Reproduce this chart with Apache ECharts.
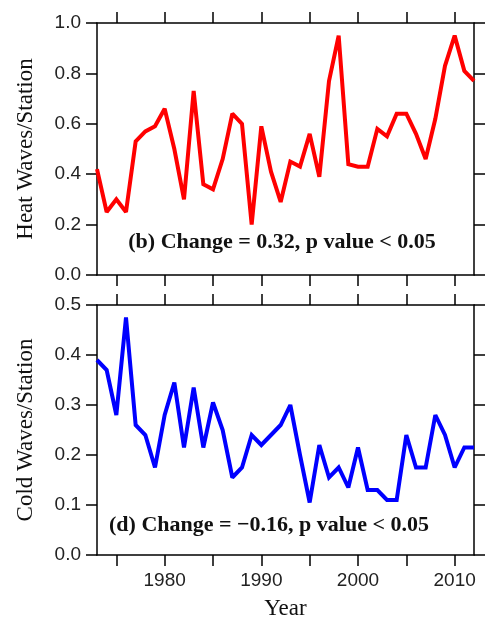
<!DOCTYPE html>
<html>
<head>
<meta charset="utf-8">
<title>Heat / Cold Waves</title>
<script src="https://cdn.jsdelivr.net/npm/echarts@6/dist/echarts.min.js"></script>
<style>
  html, body { margin: 0; padding: 0; background: #fff; }
  #main { width: 485px; height: 621px; }
</style>
</head>
<body>
<div id="main"></div>
<script>
// data
var years = [1973,1974,1975,1976,1977,1978,1979,1980,1981,1982,1983,1984,1985,1986,1987,1988,1989,1990,1991,1992,
             1993,1994,1995,1996,1997,1998,1999,2000,2001,2002,2003,2004,2005,2006,2007,2008,2009,2010,2011,2012];
var heatWaves = [0.42,0.25,0.30,0.25,0.53,0.57,0.59,0.66,0.50,0.30,0.73,0.36,0.34,0.46,0.64,0.60,0.20,0.59,0.41,0.29,
                 0.45,0.43,0.56,0.39,0.77,0.95,0.44,0.43,0.43,0.58,0.55,0.64,0.64,0.56,0.46,0.62,0.83,0.95,0.81,0.77];
var coldWaves = [0.39,0.37,0.28,0.475,0.26,0.24,0.175,0.28,0.345,0.215,0.335,0.215,0.305,0.25,0.155,0.175,0.24,0.22,0.24,0.26,
                 0.30,0.20,0.105,0.22,0.155,0.175,0.135,0.215,0.13,0.13,0.11,0.11,0.24,0.175,0.175,0.28,0.24,0.175,0.215,0.215];
var yearTicks = [1975,1980,1985,1990,1995,2000,2005,2010];
var yearLabels = [1980,1990,2000,2010];
var heatNote = '(b) Change = 0.32, p value < 0.05';
var coldNote = '(d) Change = \u22120.16, p value < 0.05';

function pairs(xs, ys) {
  var out = [];
  for (var i = 0; i < xs.length; i++) out.push([xs[i], ys[i]]);
  return out;
}

var axisLine = { show: true, onZero: false, lineStyle: { color: '#000', width: 1.5 } };
var tickStyle = { show: true, inside: false, length: 11, lineStyle: { color: '#000', width: 1.5 } };
var labelFont = { color: '#222', fontFamily: 'Liberation Sans, Arial, sans-serif', fontSize: 19 };
var nameFont = { color: '#111', fontFamily: 'Liberation Serif, Times New Roman, serif', fontSize: 23 };

function xAx(grid, pos, showLabel) {
  return {
    type: 'value', gridIndex: grid, position: pos, min: 1973, max: 2012,
    axisLine: axisLine,
    axisTick: Object.assign({ customValues: yearTicks }, tickStyle),
    axisLabel: Object.assign({ show: showLabel, margin: 16, customValues: yearLabels,
                               formatter: function (v) { return String(v); } }, labelFont),
    splitLine: { show: false },
    name: showLabel ? 'Year' : '', nameLocation: 'middle', nameGap: 42, nameTextStyle: nameFont
  };
}

function yAx(grid, pos, max, step, name) {
  var left = pos == 'left';
  return {
    type: 'value', gridIndex: grid, position: pos, min: 0, max: max, interval: step,
    axisLine: axisLine,
    axisTick: tickStyle,
    axisLabel: Object.assign({ show: left, margin: 16,
                               formatter: function (v) { return v.toFixed(1); } }, labelFont),
    splitLine: { show: false },
    name: left ? name : '', nameLocation: 'middle', nameGap: 60, nameTextStyle: nameFont
  };
}

var chart = echarts.init(document.getElementById('main'));
var option = {
  animation: false,
  backgroundColor: '#fff',
  grid: [
    { left: 97, right: 11, top: 23, height: 252 },
    { left: 97, right: 11, top: 305, height: 252 }
  ],
  xAxis: [ xAx(0, 'bottom', false), xAx(0, 'top', false), xAx(1, 'bottom', true), xAx(1, 'top', false) ],
  yAxis: [ yAx(0, 'left', 1, 0.2, 'Heat Waves/Station'), yAx(0, 'right', 1, 0.2, ''),
           yAx(1, 'left', 0.5, 0.1, 'Cold Waves/Station'), yAx(1, 'right', 0.5, 0.1, '') ],
  series: [
    {
      name: 'Heat Waves', type: 'line', xAxisIndex: 0, yAxisIndex: 0,
      data: pairs(years, heatWaves), symbol: 'none',
      lineStyle: { color: '#ff0000', width: 4, join: 'miter', miterLimit: 2 }
    },
    {
      name: 'Cold Waves', type: 'line', xAxisIndex: 2, yAxisIndex: 2,
      data: pairs(years, coldWaves), symbol: 'none',
      lineStyle: { color: '#0000ff', width: 4, join: 'miter', miterLimit: 2 }
    }
  ],
  graphic: [
    { type: 'text', x: 282, y: 242,
      style: { text: heatNote, align: 'center', verticalAlign: 'middle', fill: '#111',
               font: 'bold 22px "Liberation Serif", "Times New Roman", serif' } },
    { type: 'text', x: 269, y: 525,
      style: { text: coldNote, align: 'center', verticalAlign: 'middle', fill: '#111',
               font: 'bold 22px "Liberation Serif", "Times New Roman", serif' } }
  ]
};
chart.setOption(option);
</script>
</body>
</html>
